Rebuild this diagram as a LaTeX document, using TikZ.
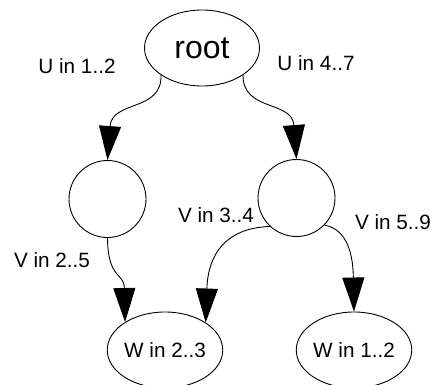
\documentclass[tikz,border=0pt]{standalone}
\usepackage{fontspec}
\setmainfont{Liberation Sans}
\usetikzlibrary{shapes.geometric,arrows.meta}
\begin{document}
\begin{tikzpicture}[x=1pt,y=-1pt,line width=0.9pt,
  oval/.style={draw,ellipse,inner sep=0pt,minimum width=115pt,minimum height=76pt,font=\fontsize{20.7}{24}\selectfont},
  circ/.style={draw,circle,inner sep=0pt,minimum size=77pt},
  lbl/.style={inner sep=0pt,font=\fontsize{20.7}{24}\selectfont},
  arr/.style={-{Triangle[length=34pt,width=22pt]}}]
\useasboundingbox (0,0) rectangle (436,385);
\node[oval,font=\fontsize{32}{36}\selectfont] (root) at (202,48) {root};
\node[circ] (l) at (107.5,199) {};
\node[circ] (r) at (296.5,198) {};
\node[oval] (w1) at (165,350) {W in 2..3};
\node[oval] (w2) at (354,350) {W in 1..2};
\node[lbl] (t1) at (77,66) {U in 1..2};
\node[lbl] (t2) at (316,63) {U in 4..7};
\node[lbl] (t3) at (216,215) {V in 3..4};
\node[lbl] (t4) at (393,222) {V in 5..9};
\node[lbl] (t5) at (52,260) {V in 2..5};
\draw[arr] (root.south west) .. controls (162,112) and (112,100) .. (l.north);
\draw[arr] (root.south east) .. controls (243,112) and (292,100) .. (r.north);
\draw[arr] (l.south) .. controls (108,280) and (124,272) .. (w1.145);
\draw[arr] (r.227) .. controls (225,228) and (208,255) .. (w1.34);
\draw[arr] (r.316) .. controls (350,230) and (353,260) .. (w2.north);
\end{tikzpicture}
\end{document}
